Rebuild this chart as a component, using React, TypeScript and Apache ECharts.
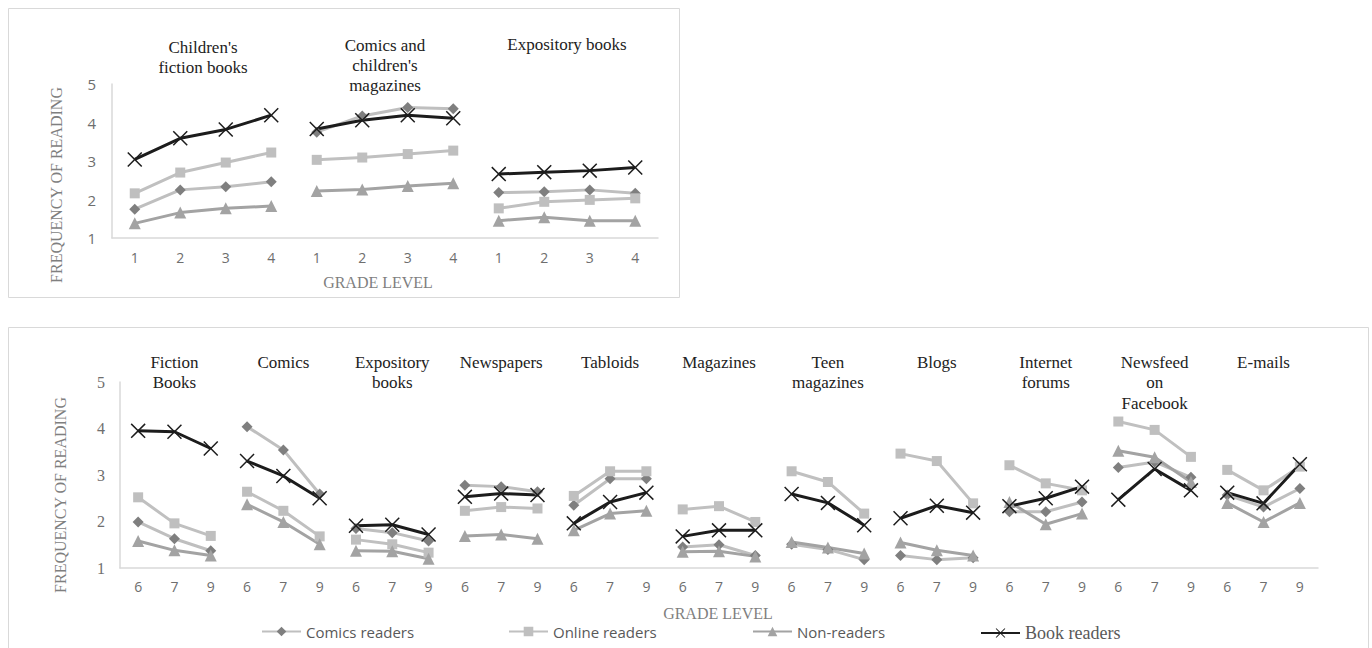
import React, { useEffect, useRef } from "react";
import * as echarts from "echarts";

const READERS = ["Comics readers", "Online readers", "Non-readers", "Book readers"];

// Top chart
const topGrades = ["1", "2", "3", "4"];
const topGroups = ["Children's\nfiction books", "Comics and\nchildren's\nmagazines", "Expository books"];
const topComics = [[1.75, 2.25, 2.33, 2.46], [3.75, 4.17, 4.39, 4.36], [2.18, 2.2, 2.25, 2.16]];
const topOnline = [[2.16, 2.7, 2.96, 3.22], [3.03, 3.09, 3.18, 3.27], [1.77, 1.94, 1.99, 2.03]];
const topNon = [[1.38, 1.66, 1.77, 1.83], [2.22, 2.26, 2.35, 2.42], [1.45, 1.54, 1.45, 1.45]];
const topBook = [[3.04, 3.59, 3.82, 4.19], [3.83, 4.06, 4.19, 4.11], [2.66, 2.71, 2.75, 2.83]];

// Bottom chart
const botGrades = ["6", "7", "9"];
const botGroups = [
  "Fiction\nBooks", "Comics", "Expository\nbooks", "Newspapers", "Tabloids", "Magazines",
  "Teen\nmagazines", "Blogs", "Internet\nforums", "Newsfeed\non\nFacebook", "E-mails",
];
const botComics = [[1.99, 1.63, 1.37], [4.04, 3.54, 2.59], [1.85, 1.76, 1.58], [2.78, 2.75, 2.64], [2.35, 2.92, 2.92], [1.45, 1.5, 1.27], [1.51, 1.4, 1.18], [1.27, 1.18, 1.22], [2.21, 2.21, 2.42], [3.16, 3.28, 2.95], [2.57, 2.31, 2.71]];
const botOnline = [[2.52, 1.96, 1.69], [2.64, 2.23, 1.68], [1.61, 1.51, 1.33], [2.23, 2.31, 2.28], [2.55, 3.08, 3.08], [2.26, 2.33, 1.99], [3.08, 2.85, 2.17], [3.46, 3.3, 2.39], [3.21, 2.82, 2.67], [4.15, 3.97, 3.39], [3.11, 2.67, 3.18]];
const botNon = [[1.58, 1.38, 1.27], [2.37, 1.99, 1.51], [1.37, 1.36, 1.2], [1.69, 1.72, 1.63], [1.81, 2.17, 2.23], [1.35, 1.36, 1.25], [1.56, 1.44, 1.31], [1.55, 1.38, 1.27], [2.42, 1.94, 2.17], [3.52, 3.38, 2.85], [2.4, 1.99, 2.4]];
const botBook = [[3.95, 3.93, 3.57], [3.3, 2.98, 2.5], [1.91, 1.93, 1.72], [2.53, 2.6, 2.57], [1.96, 2.42, 2.62], [1.68, 1.81, 1.81], [2.59, 2.4, 1.92], [2.07, 2.34, 2.19], [2.33, 2.5, 2.75], [2.47, 3.13, 2.67], [2.62, 2.39, 3.23]];

const Y_TICKS = { min: 1, max: 5, interval: 1 };

const SERIF = "'Liberation Serif', 'Times New Roman', serif";
const SANS = "'Open Sans', 'Liberation Sans', sans-serif";
const X_PATH = "path://M0,0.7L0.7,0L5,4.3L9.3,0L10,0.7L5.7,5L10,9.3L9.3,10L5,5.7L0.7,10L0,9.3L4.3,5Z";

const STYLES = [
  { line: "#bfbfbf", symbol: "diamond", color: "#7f7f7f", size: 11 },
  { line: "#c0c0c0", symbol: "rect", color: "#bfbfbf", size: 10 },
  { line: "#a3a3a3", symbol: "triangle", color: "#a3a3a3", size: 12 },
  { line: "#1c1c1c", symbol: X_PATH, color: "#1c1c1c", size: 15 },
];

function buildSeries(sets: number[][][], groupLen: number, nGroups: number, xi: number, yi: number) {
  const out: any[] = [];
  sets.forEach((set, r) => {
    const st = STYLES[r];
    set.forEach((vals, g) => {
      const data: (number | null)[] = new Array(groupLen * nGroups).fill(null);
      vals.forEach((v, k) => {
        data[g * groupLen + k] = v;
      });
      out.push({
        type: "line",
        name: READERS[r],
        xAxisIndex: xi,
        yAxisIndex: yi,
        data,
        connectNulls: false,
        symbol: st.symbol,
        symbolSize: st.size,
        showAllSymbol: true,
        lineStyle: { color: st.line, width: 3 },
        itemStyle: { color: st.color },
        emphasis: { disabled: true },
      });
    });
  });
  return out;
}

function categories(groups: string[], grades: string[]) {
  const c: string[] = [];
  groups.forEach((_, g) => grades.forEach((gr) => c.push(`${g}-${gr}`)));
  return c;
}

export default function App() {
  const ref = useRef<HTMLDivElement>(null);
  useEffect(() => {
    document.body.style.margin = "0";
    const chart = echarts.init(ref.current!, null, { renderer: "svg" });

    const axisLine = { show: true, lineStyle: { color: "#d9d9d9", width: 1.5 } };

    const topCenters = topGroups.map((_, g) => 112 + (546 / 12) * (4 * g + 2));
    const botCenters = botGroups.map((_, g) => 120 + (1198 / 33) * (3 * g + 1.5));
    const topTitleY = [37, 35, 34];

    const graphics: any[] = [
      { type: "rect", shape: { x: 8.5, y: 8.5, width: 671, height: 289 }, style: { fill: "none", stroke: "#d9d9d9", lineWidth: 1 }, silent: true },
      { type: "rect", shape: { x: 8.5, y: 327.5, width: 1360, height: 330 }, style: { fill: "none", stroke: "#d9d9d9", lineWidth: 1 }, silent: true },
      { type: "text", x: 56, y: 185, rotation: Math.PI / 2, style: { text: "FREQUENCY OF READING", font: `16px ${SERIF}`, fill: "#7f7f7f", align: "center", verticalAlign: "middle" } },
      { type: "text", x: 60, y: 495, rotation: Math.PI / 2, style: { text: "FREQUENCY OF READING", font: `16px ${SERIF}`, fill: "#7f7f7f", align: "center", verticalAlign: "middle" } },
      { type: "text", x: 378, y: 282, style: { text: "GRADE LEVEL", font: `16px ${SERIF}`, fill: "#7f7f7f", align: "center", verticalAlign: "middle" } },
      { type: "text", x: 718, y: 613, style: { text: "GRADE LEVEL", font: `16px ${SERIF}`, fill: "#7f7f7f", align: "center", verticalAlign: "middle" } },
    ];
    topGroups.forEach((t, g) =>
      graphics.push({ type: "text", x: topCenters[g], y: topTitleY[g], style: { text: t, font: `17px ${SERIF}`, fill: "#222", align: "center", verticalAlign: "top", lineHeight: 20 } })
    );
    botGroups.forEach((t, g) =>
      graphics.push({ type: "text", x: botCenters[g], y: 352, style: { text: t, font: `17px ${SERIF}`, fill: "#222", align: "center", verticalAlign: "top", lineHeight: 20.5 } })
    );

    const legendLefts = [261, 508, 752, 980];
    const legends = READERS.map((name, i) => ({
      left: legendLefts[i],
      top: 624,
      padding: 0,
      itemWidth: 39,
      itemHeight: 12,
      itemGap: 4,
      selectedMode: false,
      textStyle:
        i === 3
          ? { fontFamily: SERIF, fontSize: 18, color: "#595959" }
          : { fontFamily: SANS, fontSize: 15, color: "#595959" },
      data: [name],
    }));

    const option: any = {
      animation: false,
      backgroundColor: "#fff",
      grid: [
        { left: 112, top: 84, width: 546, height: 154 },
        { left: 120, top: 382, width: 1198, height: 186 },
      ],
      xAxis: [
        {
          type: "category", gridIndex: 0, data: categories(topGroups, topGrades), boundaryGap: true,
          axisLine, axisTick: { show: false },
          axisLabel: { formatter: (v: string) => v.split("-")[1], fontFamily: SANS, fontSize: 14, color: "#6e6e6e", margin: 12 },
        },
        {
          type: "category", gridIndex: 1, data: categories(botGroups, botGrades), boundaryGap: true,
          axisLine, axisTick: { show: false },
          axisLabel: { formatter: (v: string) => v.split("-")[1], fontFamily: SANS, fontSize: 14, color: "#6e6e6e", margin: 11 },
        },
      ],
      yAxis: [
        {
          type: "value", gridIndex: 0, ...Y_TICKS, axisLine, axisTick: { show: false }, splitLine: { show: false },
          axisLabel: { fontFamily: SANS, fontSize: 15, color: "#6e6e6e", margin: 16 },
        },
        {
          type: "value", gridIndex: 1, ...Y_TICKS, axisLine, axisTick: { show: false }, splitLine: { show: false },
          axisLabel: { fontFamily: SERIF, fontSize: 16, color: "#6e6e6e", margin: 15 },
        },
      ],
      legend: legends,
      graphic: graphics,
      series: [
        ...buildSeries([topComics, topOnline, topNon, topBook], 4, topGroups.length, 0, 0),
        ...buildSeries([botComics, botOnline, botNon, botBook], 3, botGroups.length, 1, 1),
      ],
    };
    chart.setOption(option);
    return () => chart.dispose();
  }, []);
  return <div ref={ref} style={{ width: 1372, height: 648 }} />;
}
